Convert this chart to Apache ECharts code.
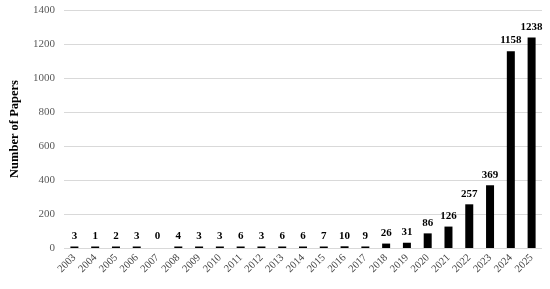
<!DOCTYPE html>
<html><head><meta charset="utf-8">
<script src="https://cdn.jsdelivr.net/npm/echarts@6/dist/echarts.min.js"></script>
<style>html,body{margin:0;padding:0;background:#fff}#c{width:550px;height:289px}</style>
</head><body><div id="c"></div>
<script>
const years = ['2003','2004','2005','2006','2007','2008','2009','2010','2011','2012','2013','2014','2015','2016','2017','2018','2019','2020','2021','2022','2023','2024','2025'];
const papers = [3,1,2,3,0,4,3,3,6,3,6,6,7,10,9,26,31,86,126,257,369,1158,1238];
const yTicks = [0,200,400,600,800,1000,1200,1400];

const chart = echarts.init(document.getElementById('c'));
const serif = '"Liberation Serif","Times New Roman",serif';
chart.setOption({
  animation: false,
  grid: {left: 53, right: 8, top: 10, bottom: 41},
  xAxis: {
    type: 'category', data: years,
    axisLine: {show: false}, axisTick: {show: false},
    axisLabel: {rotate: 45, fontFamily: serif, fontSize: 10.5, color: '#404040', margin: 8, interval: 0}
  },
  yAxis: {
    type: 'value', min: yTicks[0], max: yTicks[yTicks.length-1], interval: 200,
    name: 'Number of Papers', nameLocation: 'middle', nameGap: 43,
    nameTextStyle: {fontFamily: serif, fontSize: 12.5, fontWeight: 'bold', color: '#000'},
    axisLabel: {fontFamily: serif, fontSize: 11, color: '#595959', margin: 9, formatter: v => String(v)},
    splitLine: {lineStyle: {color: '#d9d9d9', width: 1}}
  },
  series: [{
    type: 'bar', barWidth: 8, barMinHeight: 1.5,
    data: papers.map(v => v === 0 ? {value: v, itemStyle: {color: 'rgba(0,0,0,0)'}} : v),
    itemStyle: {color: '#000'},
    label: {show: true, position: 'top', distance: 5, fontFamily: serif, fontSize: 11, fontWeight: 'bold', color: '#000'}
  }]
});
</script></body></html>
